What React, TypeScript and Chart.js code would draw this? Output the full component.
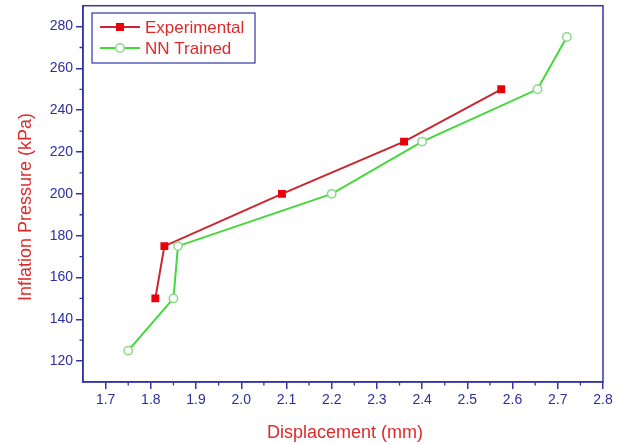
import React, { useEffect, useRef } from "react";
import { Chart, registerables } from "chart.js";

Chart.register(...registerables);

const expX = [1.81, 1.83, 2.09, 2.36, 2.575];
const expY = [150, 175, 200, 225, 250];
const nnX = [1.75, 1.85, 1.86, 2.2, 2.4, 2.655, 2.72];
const nnY = [125, 150, 175, 200, 225, 250, 275];
const xTicks = [1.7, 1.8, 1.9, 2.0, 2.1, 2.2, 2.3, 2.4, 2.5, 2.6, 2.7, 2.8];
const yTicks = [120, 140, 160, 180, 200, 220, 240, 260, 280];
const xMinor = [1.75, 1.85, 1.95, 2.05, 2.15, 2.25, 2.35, 2.45, 2.55, 2.65, 2.75];
const yMinor = [130, 150, 170, 190, 210, 230, 250, 270];
const seriesNames = ["Experimental", "NN Trained"];

const AXIS = "#3434a8";
const TICKTXT = "#2e2ea0";
const TITLE = "#dd2a2a";
const RED_LINE = "#cc2430";
const RED_PT = "#e8000a";
const GREEN_LINE = "#44d83a";
const GREEN_PT = "#8ad888";
const FONT = "'Liberation Sans', Arial, sans-serif";

const customPlugin = {
  id: "custom",
  afterDraw(chart: any) {
    const ctx = chart.ctx;
    const ca = chart.chartArea;
    const xs = chart.scales.x;
    const ys = chart.scales.y;
    ctx.save();
    ctx.strokeStyle = AXIS;
    ctx.lineWidth = 1.5;
    ctx.strokeRect(ca.left, ca.top, ca.right - ca.left, ca.bottom - ca.top);
    // minor ticks
    ctx.lineWidth = 1.3;
    ctx.beginPath();
    xMinor.forEach((v) => {
      const p = xs.getPixelForValue(v);
      ctx.moveTo(p, ca.bottom);
      ctx.lineTo(p, ca.bottom + 3.5);
    });
    yMinor.forEach((v) => {
      const p = ys.getPixelForValue(v);
      ctx.moveTo(ca.left, p);
      ctx.lineTo(ca.left - 3.5, p);
    });
    ctx.stroke();

    // axis titles
    ctx.fillStyle = TITLE;
    ctx.font = `18px ${FONT}`;
    ctx.textAlign = "center";
    ctx.textBaseline = "middle";
    ctx.fillText("Displacement (mm)", (ca.left + ca.right) / 2 + 2, 433);
    ctx.save();
    ctx.translate(26, 207);
    ctx.rotate(-Math.PI / 2);
    ctx.fillText("Inflation Pressure (kPa)", 0, 0);
    ctx.restore();

    // legend
    const lx = 92, ly = 13, lw = 163, lh = 50;
    ctx.fillStyle = "#ffffff";
    ctx.fillRect(lx, ly, lw, lh);
    ctx.strokeStyle = AXIS;
    ctx.lineWidth = 1.2;
    ctx.strokeRect(lx, ly, lw, lh);
    const rows = [
      { y: 27, line: RED_LINE, name: seriesNames[0], kind: "square" },
      { y: 48, line: GREEN_LINE, name: seriesNames[1], kind: "circle" },
    ];
    rows.forEach((r) => {
      ctx.strokeStyle = r.line;
      ctx.lineWidth = 2;
      ctx.beginPath();
      ctx.moveTo(100, r.y);
      ctx.lineTo(140, r.y);
      ctx.stroke();
      if (r.kind === "square") {
        ctx.fillStyle = RED_PT;
        ctx.fillRect(116, r.y - 4, 8, 8);
      } else {
        ctx.fillStyle = "#ffffff";
        ctx.strokeStyle = GREEN_PT;
        ctx.lineWidth = 1.5;
        ctx.beginPath();
        ctx.arc(120, r.y, 4.2, 0, Math.PI * 2);
        ctx.fill();
        ctx.stroke();
      }
      ctx.fillStyle = TITLE;
      ctx.font = `17px ${FONT}`;
      ctx.textAlign = "left";
      ctx.textBaseline = "middle";
      ctx.fillText(r.name, 145, r.y + 1);
    });
    ctx.restore();
  },
};

export default function App() {
  const ref = useRef<HTMLCanvasElement | null>(null);
  useEffect(() => {
    document.body.style.margin = "0";
    const canvas = ref.current;
    if (!canvas) return;
    const chart = new Chart(canvas, {
      type: "scatter",
      data: {
        datasets: [
          {
            label: seriesNames[1],
            data: nnX.map((x, i) => ({ x, y: nnY[i] })),
            showLine: true,
            borderColor: GREEN_LINE,
            borderWidth: 2,
            pointStyle: "circle",
            pointRadius: 4.2,
            pointBackgroundColor: "#ffffff",
            pointBorderColor: GREEN_PT,
            pointBorderWidth: 1.5,
          },
          {
            label: seriesNames[0],
            data: expX.map((x, i) => ({ x, y: expY[i] })),
            showLine: true,
            borderColor: RED_LINE,
            borderWidth: 2,
            pointStyle: "rect",
            pointRadius: 5.6,
            pointBackgroundColor: RED_PT,
            pointBorderColor: RED_PT,
            pointBorderWidth: 0,
          },
        ],
      },
      options: {
        animation: false,
        responsive: false,
        devicePixelRatio: 1,
        layout: { padding: { top: 5, right: 24, left: 0, bottom: 0 } },
        plugins: { legend: { display: false }, tooltip: { enabled: false } },
        scales: {
          x: {
            type: "linear",
            min: 1.65,
            max: 2.8,
            afterBuildTicks: (s: any) => {
              s.ticks = xTicks.map((v) => ({ value: v }));
            },
            afterFit: (s: any) => {
              s.height = 63;
              s.paddingLeft = 0;
              s.paddingRight = 0;
            },
            ticks: {
              color: TICKTXT,
              font: { family: FONT, size: 14 },
              padding: 3,
              maxRotation: 0,
              autoSkip: false,
              callback: (v: any) => Number(v).toFixed(1),
            },
            grid: { drawOnChartArea: false, tickLength: 7, color: AXIS, lineWidth: 1.5 },
            border: { color: AXIS, width: 1.5 },
          },
          y: {
            type: "linear",
            min: 110,
            max: 290,
            afterBuildTicks: (s: any) => {
              s.ticks = yTicks.map((v) => ({ value: v }));
            },
            afterFit: (s: any) => {
              s.width = 83;
              s.paddingTop = 0;
              s.paddingBottom = 0;
            },
            ticks: {
              color: TICKTXT,
              font: { family: FONT, size: 14 },
              padding: 3,
              autoSkip: false,
            },
            grid: { drawOnChartArea: false, tickLength: 7, color: AXIS, lineWidth: 1.5 },
            border: { color: AXIS, width: 1.5 },
          },
        },
      },
      plugins: [customPlugin],
    });
    return () => chart.destroy();
  }, []);
  return (
    <div style={{ width: 627, height: 445, background: "#ffffff" }}>
      <canvas ref={ref} width={627} height={445} />
    </div>
  );
}
